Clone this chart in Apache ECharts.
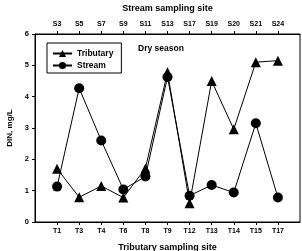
<!DOCTYPE html>
<html>
<head>
<meta charset="utf-8">
<script src="https://cdn.jsdelivr.net/npm/echarts@6/dist/echarts.min.js"></script>
<style>
html, body { margin: 0; padding: 0; background: #fff; }
#container { width: 302px; height: 251px; }
</style>
</head>
<body>
<div id="container"></div>
<script>
var dom = document.getElementById('container');
var myChart = echarts.init(dom);

// site labels (bottom axis = tributary, top axis = stream)
let tribSites = ['T1', 'T3', 'T4', 'T6', 'T8', 'T9', 'T12', 'T13', 'T14', 'T15', 'T17'];
let streamSites = ['S3', 'S5', 'S7', 'S9', 'S11', 'S13', 'S17', 'S19', 'S20', 'S21', 'S24'];
// DIN values, mg/L
let tributary = [1.7, 0.79, 1.15, 0.78, 1.71, 4.78, 0.6, 4.5, 2.96, 5.1, 5.15];
let stream = [1.13, 4.27, 2.6, 1.04, 1.45, 4.63, 0.84, 1.18, 0.94, 3.15, 0.78];

let pos = tribSites.map(function (s, i) { return i + 1; });
let fontFam = 'Liberation Sans, Arial, sans-serif';

function toPairs(arr) {
    return arr.map(function (v, i) { return [i + 1, v]; });
}

function siteAxis(position, labels, title, gap) {
    return {
        type: 'value',
        position: position,
        min: 0,
        max: 12,
        interval: 1,
        name: title,
        nameLocation: 'middle',
        nameGap: gap,
        nameTextStyle: { color: '#000', fontWeight: 'bold', fontSize: 9, fontFamily: fontFam },
        axisLine: { show: true, lineStyle: { color: '#000', width: 1 } },
        axisTick: { show: true, customValues: pos, length: 3, lineStyle: { color: '#000' } },
        axisLabel: {
            customValues: pos,
            margin: 6,
            color: '#000',
            fontWeight: 'bold',
            fontSize: 7,
            fontFamily: fontFam,
            formatter: function (v) { return labels[v - 1] || ''; }
        },
        splitLine: { show: false }
    };
}

option = {
    backgroundColor: '#fff',
    animation: false,
    title: {
        text: 'Dry season',
        left: 138,
        top: 44,
        padding: 0,
        textStyle: { color: '#000', fontWeight: 'bold', fontSize: 8.5, fontFamily: fontFam }
    },
    legend: {
        orient: 'vertical',
        left: 47,
        top: 43,
        padding: [6, 8, 3, 5],
        borderColor: '#000',
        borderWidth: 1,
        itemWidth: 19,
        itemHeight: 9,
        itemGap: 3,
        textStyle: { color: '#000', fontWeight: 'bold', fontSize: 8.5, fontFamily: fontFam },
        data: ['Tributary', 'Stream']
    },
    grid: {
        left: 35,
        right: 2,
        top: 34,
        bottom: 29,
        outerBoundsMode: 'none',
        show: true,
        borderColor: '#000',
        borderWidth: 1
    },
    xAxis: [
        siteAxis('bottom', tribSites, 'Tributary sampling site', 21),
        siteAxis('top', streamSites, 'Stream sampling site', 21)
    ],
    yAxis: [{
        type: 'value',
        min: 0,
        max: 6,
        interval: 1,
        name: 'DIN, mg/L',
        nameLocation: 'middle',
        nameGap: 21,
        nameTextStyle: { color: '#000', fontWeight: 'bold', fontSize: 8, fontFamily: fontFam },
        axisLine: { show: true, lineStyle: { color: '#000', width: 1 } },
        axisTick: { show: true, length: 3, lineStyle: { color: '#000' } },
        axisLabel: { color: '#000', fontWeight: 'bold', fontSize: 7.5, margin: 6, fontFamily: fontFam },
        splitLine: { show: false }
    }],
    series: [{
        name: 'Tributary',
        type: 'line',
        symbol: 'triangle',
        symbolSize: 10,
        lineStyle: { color: '#000', width: 1 },
        itemStyle: { color: '#000' },
        data: toPairs(tributary)
    }, {
        name: 'Stream',
        type: 'line',
        symbol: 'circle',
        symbolSize: 10,
        lineStyle: { color: '#000', width: 1 },
        itemStyle: { color: '#000' },
        data: toPairs(stream)
    }]
};
myChart.setOption(option);

window.addEventListener('resize', function () {
    myChart.resize();
});
</script>
</body>
</html>
